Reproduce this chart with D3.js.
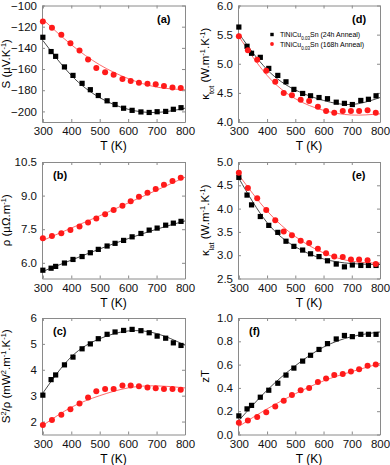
<!DOCTYPE html>
<html>
<head>
<meta charset="utf-8">
<script src="https://cdn.jsdelivr.net/npm/d3@7.9.0/dist/d3.min.js"></script>
<style>
  body { margin: 0; background: #fff; }
  svg { font-family: "Liberation Sans", Arial, sans-serif; display: block; }
</style>
</head>
<body>
<svg width="390" height="465"></svg>
<script>
// measurement temperatures (K)
const tempBlack = [300, 329, 345, 376, 406, 438, 467, 495, 526, 554, 584, 614, 645, 674, 702, 732, 759, 786];
const tempRed = [300, 332, 365, 397, 429, 459, 488, 519, 549, 580, 609, 638, 668, 697, 726, 756, 785];

// 24h anneal (black squares)
const seebeckBlack = [-130, -143.5, -148, -158, -166, -173.5, -179.5, -185, -190, -193.5, -197, -199, -200.5, -201, -200.3, -200, -198, -196.5];
const rhoBlack = [5.67, 5.76, 5.84, 5.99, 6.15, 6.28, 6.45, 6.60, 6.75, 6.87, 7.00, 7.16, 7.31, 7.46, 7.55, 7.68, 7.77, 7.85];
const pfBlack = [3.02, 3.62, 3.80, 4.19, 4.49, 4.81, 5.00, 5.20, 5.37, 5.46, 5.52, 5.56, 5.51, 5.43, 5.30, 5.22, 5.04, 4.94];
const kTotBlack = [5.63, 5.30, 5.18, 5.11, 4.92, 4.80, 4.69, 4.56, 4.49, 4.45, 4.42, 4.40, 4.34, 4.32, 4.30, 4.37, 4.39, 4.45];
const kLatBlack = [4.67, 4.29, 4.08, 3.83, 3.64, 3.49, 3.30, 3.19, 3.11, 3.03, 2.97, 2.88, 2.81, 2.75, 2.79, 2.78, 2.78, 2.78];
const ztBlack = [0.16, 0.22, 0.25, 0.32, 0.38, 0.44, 0.51, 0.57, 0.63, 0.68, 0.73, 0.78, 0.82, 0.85, 0.84, 0.86, 0.86, 0.86];

// 168h anneal (red circles)
const seebeckRed = [-115, -121, -127.6, -135.6, -142.5, -151, -159, -163, -165.4, -169.5, -171.4, -173, -174, -174.3, -175.9, -177.5, -177.8];
const rhoRed = [7.10, 7.20, 7.32, 7.46, 7.62, 7.80, 7.98, 8.17, 8.36, 8.55, 8.75, 8.95, 9.13, 9.30, 9.48, 9.65, 9.80];
const pfRed = [1.87, 2.06, 2.26, 2.48, 2.70, 2.93, 3.17, 3.26, 3.26, 3.39, 3.39, 3.36, 3.32, 3.29, 3.26, 3.26, 3.23];
const kTotRed = [5.47, 5.23, 5.07, 4.88, 4.69, 4.50, 4.46, 4.38, 4.36, 4.26, 4.19, 4.16, 4.19, 4.19, 4.19, 4.20, 4.16];
const kLatRed = [4.77, 4.44, 4.22, 3.97, 3.75, 3.51, 3.43, 3.31, 3.26, 3.14, 3.04, 2.97, 2.96, 2.91, 2.91, 2.89, 2.81];
const ztRed = [0.10, 0.12, 0.15, 0.19, 0.24, 0.29, 0.34, 0.38, 0.40, 0.45, 0.48, 0.51, 0.52, 0.54, 0.56, 0.59, 0.60];

// fit curves, read at these temperatures
const fitTemps = [300, 400, 500, 600, 700, 800];
const seebeckFitBlack = [-133, -166, -187, -198, -201, -197];
const seebeckFitRed = [-113, -137, -156, -169, -177, -179.5];
const rhoFitBlack = [5.62, 6.12, 6.62, 7.08, 7.50, 7.87];
const rhoFitRed = [7.0, 7.55, 8.1, 8.67, 9.24, 9.82];
const pfFitBlack = [3.1, 4.5, 5.2, 5.5, 5.4, 4.95];
const pfFitRed = [1.85, 2.55, 3.0, 3.3, 3.38, 3.3];
const kTotFitBlack = [5.52, 4.90, 4.55, 4.37, 4.30, 4.42];
const kTotFitRed = [5.47, 4.80, 4.40, 4.20, 4.12, 4.14];
const kLatFitBlack = [4.65, 3.70, 3.18, 2.92, 2.82, 2.80];
const kLatFitRed = [4.72, 3.95, 3.40, 3.05, 2.87, 2.83];
const ztFitBlack = [0.12, 0.38, 0.59, 0.75, 0.84, 0.88];
const ztFitRed = [0.07, 0.22, 0.35, 0.46, 0.54, 0.61];

// tick labels
const xTicks = [300, 400, 500, 600, 700, 800];
const seebeckTicks = [-200, -180, -160, -140, -120, -100];
const rhoTicks = [6.0, 7.5, 9.0, 10.5];
const pfTicks = [2, 3, 4, 5, 6];
const kTotTicks = [4.0, 4.5, 5.0, 5.5, 6.0];
const kLatTicks = [2.5, 3.0, 3.5, 4.0, 4.5, 5.0];
const ztTicks = [0.0, 0.2, 0.4, 0.6, 0.8, 1.0];

const legendLabels = ['(24h Anneal)', '(168h Anneal)'];

const svg = d3.select('svg');
const rowTops = [5.5, 162, 318];
const plotH = 116.5;
const colX = [[42, 185], [238, 380]];

const panels = [
  { tag: '(a)', col: 0, row: 0, dom: [-210, -100], ticks: seebeckTicks, fmt: d3.format('d'),
    black: seebeckBlack, red: seebeckRed, fitB: seebeckFitBlack, fitR: seebeckFitRed,
    ylab: [['S (µV.K', 0], ['-1', 1], [')', 0]], tagPos: 'right' },
  { tag: '(b)', col: 0, row: 1, dom: [5.3, 10.5], ticks: rhoTicks, fmt: d3.format('.1f'),
    black: rhoBlack, red: rhoRed, fitB: rhoFitBlack, fitR: rhoFitRed,
    ylab: [['ρ (µΩ.m', 0], ['-1', 1], [')', 0]], tagPos: 'left' },
  { tag: '(c)', col: 0, row: 2, dom: [1.5, 6], ticks: pfTicks, fmt: d3.format('d'),
    black: pfBlack, red: pfRed, fitB: pfFitBlack, fitR: pfFitRed,
    ylab: [['S', 0], ['2', 1], ['/ρ (mW', 0], ['2', 1], ['.m', 0], ['-1', 1], ['.K', 0], ['-1', 1], [')', 0]], tagPos: 'left' },
  { tag: '(d)', col: 1, row: 0, dom: [4.0, 6.0], ticks: kTotTicks, fmt: d3.format('.1f'),
    black: kTotBlack, red: kTotRed, fitB: kTotFitBlack, fitR: kTotFitRed,
    ylab: [['κ', 0], ['tot', -1], [' (W.m', 0], ['-1', 1], ['.K', 0], ['-1', 1], [')', 0]], tagPos: 'right', legend: true },
  { tag: '(e)', col: 1, row: 1, dom: [2.5, 5.0], ticks: kLatTicks, fmt: d3.format('.1f'),
    black: kLatBlack, red: kLatRed, fitB: kLatFitBlack, fitR: kLatFitRed,
    ylab: [['κ', 0], ['lat', -1], [' (W.m', 0], ['-1', 1], ['.K', 0], ['-1', 1], [')', 0]], tagPos: 'right' },
  { tag: '(f)', col: 1, row: 2, dom: [0, 1], ticks: ztTicks, fmt: d3.format('.1f'),
    black: ztBlack, red: ztRed, fitB: ztFitBlack, fitR: ztFitRed,
    ylab: [['zT', 0]], tagPos: 'left' },
];

function addRich(textSel, parts, size) {
  parts.forEach(([t, kind]) => {
    const ts = textSel.append('tspan').text(t);
    if (kind === 1) ts.attr('baseline-shift', 'super').attr('font-size', size * 0.65);
    if (kind === -1) ts.attr('baseline-shift', 'sub').attr('font-size', size * 0.65);
  });
}

panels.forEach(p => {
  const [x0, x1] = colX[p.col];
  const y0 = rowTops[p.row];
  const y1 = y0 + plotH;
  const x = d3.scaleLinear().domain([297, 800]).range([x0, x1]);
  const y = d3.scaleLinear().domain(p.dom).range([y1, y0]);
  const g = svg.append('g');

  // axes: ticks inward on all four sides
  const axes = [
    [d3.axisBottom(x).tickValues(xTicks).tickFormat(d3.format('d')), `translate(0,${y1})`, true],
    [d3.axisTop(x).tickValues(xTicks).tickFormat(''), `translate(0,${y0})`, false],
    [d3.axisLeft(y).tickValues(p.ticks).tickFormat(p.fmt), `translate(${x0},0)`, true],
    [d3.axisRight(y).tickValues(p.ticks).tickFormat(''), `translate(${x1},0)`, false],
  ];
  axes.forEach(([ax, tr, labels]) => {
    const a = g.append('g').attr('transform', tr)
      .call(ax.tickSizeInner(-3).tickSizeOuter(0).tickPadding(labels ? 5 : 0));
    a.select('.domain').attr('stroke', '#8a8a8a');
    a.selectAll('.tick line').attr('stroke', '#8a8a8a');
    a.selectAll('.tick text').attr('fill', '#111').attr('font-size', 11.5)
      .attr('font-family', '"Liberation Sans", Arial, sans-serif');
  });

  // fit lines
  const line = (vals) => d3.line().curve(d3.curveNatural)
    .x((d, i) => x(fitTemps[i])).y(d => y(d))(vals);
  g.append('path').attr('d', line(p.fitB)).attr('fill', 'none').attr('stroke', '#333').attr('stroke-width', 0.9);
  g.append('path').attr('d', line(p.fitR)).attr('fill', 'none').attr('stroke', '#ff5a5a').attr('stroke-width', 0.9);

  // markers
  g.selectAll('.sq').data(p.black).join('rect')
    .attr('x', (d, i) => x(tempBlack[i]) - 2.6).attr('y', d => y(d) - 2.6)
    .attr('width', 5.2).attr('height', 5.2).attr('fill', '#000');
  g.selectAll('.ci').data(p.red).join('circle')
    .attr('cx', (d, i) => x(tempRed[i])).attr('cy', d => y(d))
    .attr('r', 3).attr('fill', '#ff1a1a');

  // panel tag
  g.append('text')
    .attr('x', p.tagPos === 'right' ? x1 - 28 : x0 + 11)
    .attr('y', y0 + 17)
    .attr('font-size', 11).attr('font-weight', 'bold').text(p.tag);

  // x label
  g.append('text').attr('x', (x0 + x1) / 2).attr('y', y1 + 28)
    .attr('text-anchor', 'middle').attr('font-size', 12).text('T (K)');

  // y label
  const yl = g.append('text')
    .attr('transform', `translate(${p.col === 0 ? 10 : 209},${(y0 + y1) / 2}) rotate(-90)`)
    .attr('text-anchor', 'middle').attr('font-size', 11.5);
  addRich(yl, p.ylab, 11.5);

  if (p.legend) {
    const lg = g.append('g').attr('transform', `translate(${x0 + 34},${y0 + 29})`);
    legendLabels.forEach((lab, i) => {
      if (i === 0) lg.append('rect').attr('x', -1.7).attr('y', -1.7).attr('width', 3.4).attr('height', 3.4).attr('fill', '#000');
      else lg.append('circle').attr('cx', 0).attr('cy', 9.5).attr('r', 1.9).attr('fill', '#ff1a1a');
      const t = lg.append('text').attr('x', 8).attr('y', i * 9.5 + 2.5).attr('font-size', 7);
      addRich(t, [['TiNiCu', 0], ['0.03', -1], ['Sn ' + lab, 0]], 7);
    });
  }
});
</script>
</body>
</html>
